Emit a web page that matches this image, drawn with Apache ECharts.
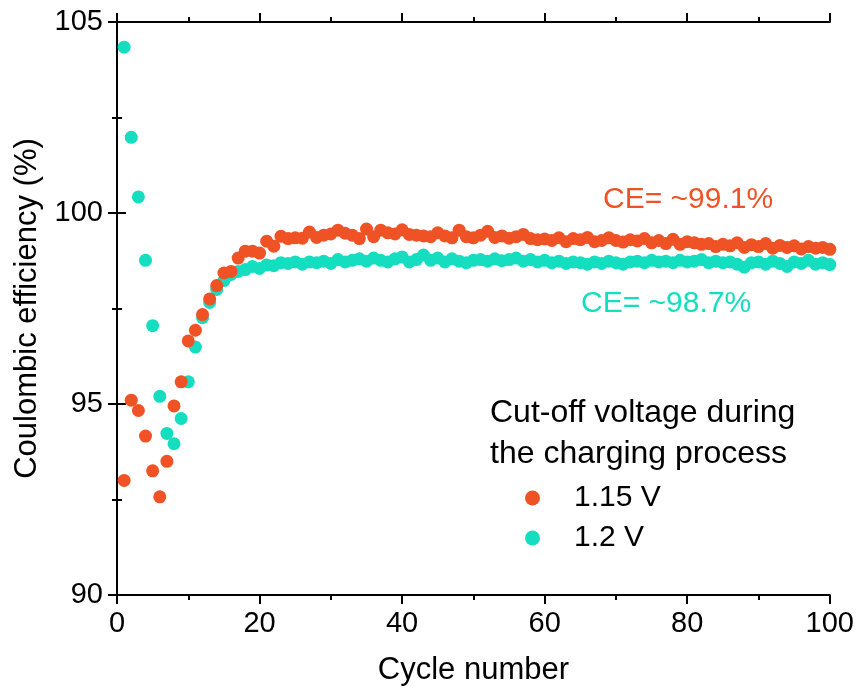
<!DOCTYPE html>
<html>
<head>
<meta charset="utf-8">
<script src="https://cdn.jsdelivr.net/npm/echarts@6/dist/echarts.min.js"></script>
<style>
  html, body { margin: 0; padding: 0; background: #fff; }
  #chart { width: 857px; height: 694px; }
</style>
</head>
<body>
<div id="chart"></div>
<script>
// Coulombic efficiency per cycle for two charging cut-off voltages
const cycles = Array.from({ length: 100 }, (_, i) => i + 1);

const ce115 = [
  93.0, 95.1, 94.83, 94.16, 93.25, 92.57, 93.5, 94.95, 95.58, 96.65,
  96.93, 97.34, 97.75, 98.1, 98.43, 98.47, 98.82, 99.0, 99.0, 98.95,
  99.26, 99.13, 99.39, 99.33, 99.35, 99.34, 99.5, 99.36, 99.42, 99.45,
  99.55, 99.47, 99.42, 99.33, 99.58, 99.38, 99.55, 99.48, 99.45, 99.56,
  99.44, 99.42, 99.4, 99.38, 99.48, 99.4, 99.35, 99.55, 99.38, 99.35,
  99.42, 99.52, 99.36, 99.4, 99.34, 99.38, 99.44, 99.33, 99.3, 99.32,
  99.28, 99.35, 99.25, 99.33, 99.3, 99.36, 99.25, 99.28, 99.35, 99.28,
  99.24, 99.3, 99.27, 99.33, 99.22, 99.28, 99.2, 99.31, 99.18, 99.25,
  99.22, 99.18, 99.2, 99.12, 99.18, 99.14, 99.22, 99.1, 99.17, 99.12,
  99.2, 99.08, 99.15, 99.1, 99.14, 99.06, 99.12, 99.08, 99.1, 99.05
];

const ce12 = [
  104.34, 101.98, 100.42, 98.76, 97.05, 95.2, 94.23, 93.96, 94.62, 95.58,
  96.49, 97.26, 97.66, 98.0, 98.23, 98.39, 98.47, 98.52, 98.6, 98.55,
  98.64, 98.62, 98.7, 98.68, 98.72, 98.66, 98.72, 98.7, 98.74, 98.68,
  98.78, 98.72, 98.76, 98.8, 98.74, 98.82, 98.76, 98.72, 98.8, 98.85,
  98.72, 98.78, 98.9, 98.76, 98.82, 98.72, 98.8, 98.74, 98.7, 98.76,
  98.78, 98.74, 98.8, 98.75, 98.78, 98.82, 98.74, 98.78, 98.72, 98.76,
  98.7, 98.74, 98.68, 98.72, 98.7, 98.66, 98.72, 98.68, 98.74, 98.7,
  98.66, 98.72, 98.74, 98.7, 98.76, 98.72, 98.74, 98.7, 98.76, 98.72,
  98.74, 98.78, 98.7, 98.74, 98.7, 98.72, 98.66, 98.58, 98.7, 98.72,
  98.66, 98.74, 98.68, 98.6, 98.72, 98.68, 98.76, 98.66, 98.7, 98.65
];

const seriesNames = ['1.15 V', '1.2 V'];
const legendTitle = ['Cut-off voltage during', 'the charging process'];
const noteHigh = 'CE= ~99.1%';
const noteLow = 'CE= ~98.7%';
const xTicks = { min: 0, max: 100, step: 20 };
const yTicks = { min: 90, max: 105, step: 5 };

const ORANGE = '#EF5224';
const CYAN = '#14DEBF';
const FONT = '"Liberation Sans", Arial, sans-serif';

const pairs = (ys) => cycles.map((c, i) => [c, ys[i]]);

const axisLine = { show: true, lineStyle: { color: '#000', width: 2 } };
const axisTick = { show: true, length: 9, lineStyle: { color: '#000', width: 2 } };
const minorTick = { show: true, splitNumber: 2, length: 5, lineStyle: { color: '#000', width: 2 } };

const chart = echarts.init(document.getElementById('chart'), null, { renderer: 'canvas' });

chart.setOption({
  animation: false,
  backgroundColor: '#fff',
  textStyle: { fontFamily: FONT },
  grid: { left: 117, right: 23, top: 22, bottom: 99, containLabel: false },
  xAxis: [
    {
      type: 'value', min: xTicks.min, max: xTicks.max, interval: xTicks.step,
      position: 'bottom',
      name: 'Cycle number', nameLocation: 'middle', nameGap: 60,
      nameTextStyle: { fontSize: 31, color: '#000', fontFamily: FONT },
      axisLine, axisTick, minorTick,
      axisLabel: { fontSize: 29, color: '#000', margin: 14, fontFamily: FONT },
      splitLine: { show: false }
    },
    {
      type: 'value', min: xTicks.min, max: xTicks.max, interval: xTicks.step,
      position: 'top',
      axisLine, axisTick, minorTick,
      axisLabel: { show: false }, splitLine: { show: false }
    }
  ],
  yAxis: [
    {
      type: 'value', min: yTicks.min, max: yTicks.max, interval: yTicks.step,
      position: 'left',
      name: 'Coulombic efficiency (%)', nameLocation: 'middle', nameGap: 74,
      nameTextStyle: { fontSize: 31, color: '#000', fontFamily: FONT },
      axisLine, axisTick, minorTick,
      axisLabel: { fontSize: 29, color: '#000', margin: 14, fontFamily: FONT },
      splitLine: { show: false }
    },
    {
      type: 'value', min: yTicks.min, max: yTicks.max, interval: yTicks.step,
      position: 'right',
      axisLine, axisTick, minorTick,
      axisLabel: { show: false }, splitLine: { show: false }
    }
  ],
  legend: {
    data: seriesNames,
    orient: 'vertical',
    left: 520, top: 478,
    itemWidth: 15, itemHeight: 15, itemGap: 10,
    icon: 'circle',
    textStyle: { fontSize: 30, color: '#000', fontFamily: FONT, padding: [0, 0, 0, 29] }
  },
  graphic: [
    {
      type: 'text', left: 490, top: 393,
      style: { text: legendTitle.join('\n'), font: '32px ' + FONT, fill: '#000', lineHeight: 41 }
    },
    {
      type: 'text', left: 603, top: 185,
      style: { text: noteHigh, font: '30px ' + FONT, fill: ORANGE }
    },
    {
      type: 'text', left: 581, top: 289,
      style: { text: noteLow, font: '30px ' + FONT, fill: CYAN }
    }
  ],
  series: [
    {
      name: seriesNames[1], type: 'scatter', data: pairs(ce12),
      symbol: 'circle', symbolSize: 13, clip: true,
      itemStyle: { color: CYAN, opacity: 1 }, z: 2
    },
    {
      name: seriesNames[0], type: 'scatter', data: pairs(ce115),
      symbol: 'circle', symbolSize: 13, clip: true,
      itemStyle: { color: ORANGE, opacity: 1 }, z: 3
    }
  ]
});
</script>
</body>
</html>
